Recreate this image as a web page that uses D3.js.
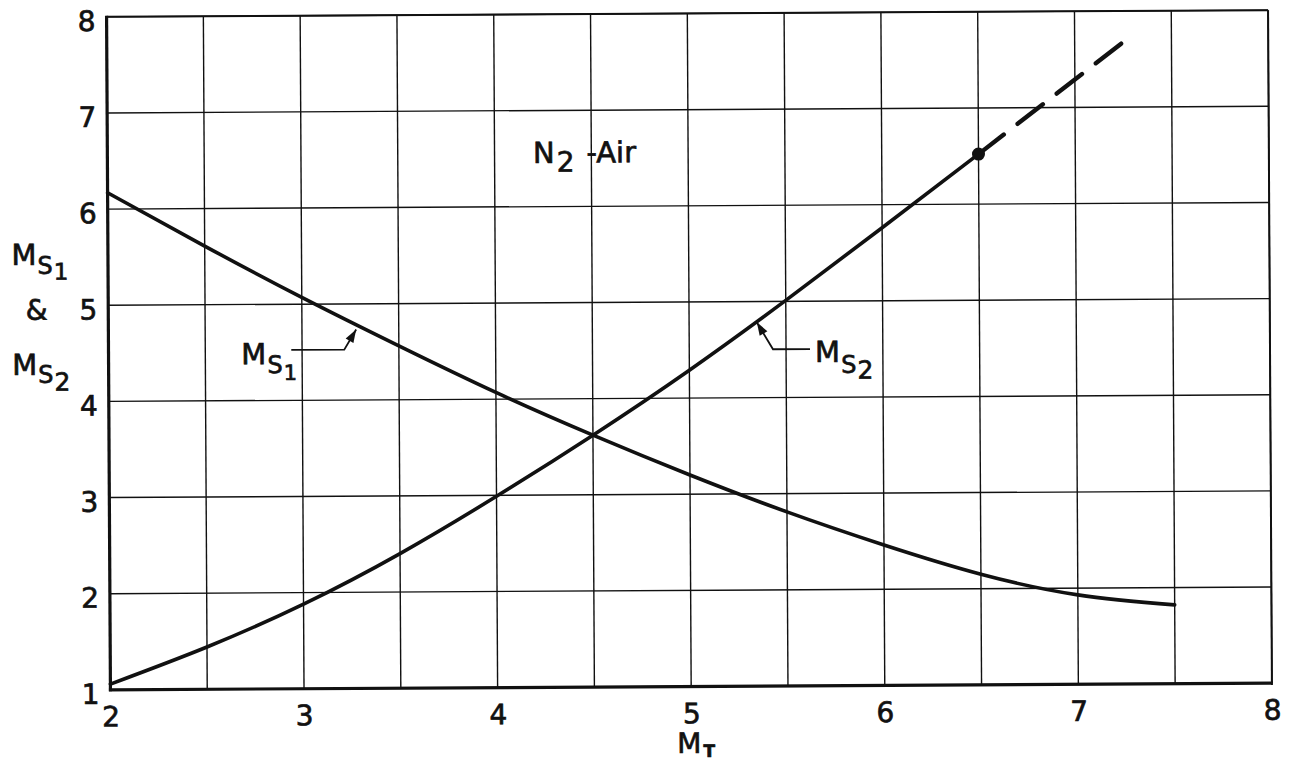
<!DOCTYPE html>
<html>
<head>
<meta charset="utf-8">
<script src="https://cdn.jsdelivr.net/npm/d3@7"></script>
<style>
  html, body { margin: 0; padding: 0; background: #fff; }
  svg text { font-family: "DejaVu Sans", sans-serif; fill: #111; stroke: #111; stroke-width: 0.7px; }
</style>
</head>
<body>
<svg id="chart" width="1292" height="762"></svg>
<script>
// Shock Mach numbers Ms1 and Ms2 against MT (N2 - Air)
const mtValues   = [2, 2.5, 3, 3.5, 4, 4.5, 5, 5.5, 6, 6.5, 7, 7.5];
const ms1Values  = [6.17, 5.61, 5.07, 4.56, 4.07, 3.62, 3.20, 2.81, 2.46, 2.15, 1.93, 1.82];
const ms2Mt      = [2, 2.5, 3, 3.5, 4, 4.5, 5, 5.5, 6, 6.5];
const ms2Values  = [1.06, 1.44, 1.88, 2.40, 2.99, 3.62, 4.29, 5.01, 5.76, 6.52];
const ms2ExtMt     = [6.5, 7.24];
const ms2ExtValues = [6.52, 7.66];
const markedMt = 6.5;
const markedMs = 6.52;
const xTickValues = [2, 3, 4, 5, 6, 7, 8];
const yTickValues = [1, 2, 3, 4, 5, 6, 7, 8];
const xGridValues = [2, 2.5, 3, 3.5, 4, 4.5, 5, 5.5, 6, 6.5, 7, 7.5, 8];
const yGridValues = [1, 2, 3, 4, 5, 6, 7, 8];

const plot = { left: 108.5, right: 1270, top: 13.5, bottom: 686.5 };
const ink = "#111";

const svg = d3.select("#chart");
// the whole sheet sits very slightly turned
const sheet = svg.append("g").attr("transform", "rotate(-0.33 689 350)");

const x = d3.scaleLinear().domain([2, 8]).range([plot.left, plot.right]);
const y = d3.scaleLinear().domain([1, 8]).range([plot.bottom, plot.top]);

// grid
sheet.append("g").selectAll("line").data(xGridValues).join("line")
  .attr("x1", d => x(d)).attr("x2", d => x(d))
  .attr("y1", plot.top).attr("y2", plot.bottom)
  .attr("stroke", ink).attr("stroke-width", 1.4);
sheet.append("g").selectAll("line").data(yGridValues).join("line")
  .attr("x1", plot.left).attr("x2", plot.right)
  .attr("y1", d => y(d)).attr("y2", d => y(d))
  .attr("stroke", ink).attr("stroke-width", 1.4);

// frame: heavier on the left and bottom
sheet.append("line").attr("x1", plot.left).attr("x2", plot.left).attr("y1", plot.top - 1).attr("y2", plot.bottom + 1.5)
  .attr("stroke", ink).attr("stroke-width", 3.2);
sheet.append("line").attr("x1", plot.left - 1.5).attr("x2", plot.right + 1).attr("y1", plot.bottom).attr("y2", plot.bottom)
  .attr("stroke", ink).attr("stroke-width", 3.2);
sheet.append("line").attr("x1", plot.left).attr("x2", plot.right).attr("y1", plot.top).attr("y2", plot.top)
  .attr("stroke", ink).attr("stroke-width", 2);
sheet.append("line").attr("x1", plot.right).attr("x2", plot.right).attr("y1", plot.top).attr("y2", plot.bottom)
  .attr("stroke", ink).attr("stroke-width", 2);

// axes (labels only; the grid carries the lines)
const xAxis = sheet.append("g").attr("transform", `translate(0,${plot.bottom})`)
  .call(d3.axisBottom(x).tickValues(xTickValues).tickSize(0).tickPadding(10).tickFormat(d3.format("d")));
const yAxis = sheet.append("g").attr("transform", `translate(${plot.left},0)`)
  .call(d3.axisLeft(y).tickValues(yTickValues).tickSize(0).tickPadding(11).tickFormat(d3.format("d")));
[xAxis, yAxis].forEach(a => {
  a.select(".domain").remove();
  a.selectAll("text").attr("font-size", 28).attr("font-family", "DejaVu Sans").attr("fill", ink);
});
xAxis.selectAll("text").attr("dy", "0.95em");
yAxis.selectAll("text").attr("dy", "0.48em");

// curves
const line = d3.line().x(d => x(d[0])).y(d => y(d[1])).curve(d3.curveNatural);
const ms1Pts = mtValues.map((m, i) => [m, ms1Values[i]]);
const ms2Pts = ms2Mt.map((m, i) => [m, ms2Values[i]]);
const ms2Ext = ms2ExtMt.map((m, i) => [m, ms2ExtValues[i]]);

sheet.append("path").attr("d", line(ms1Pts)).attr("fill", "none")
  .attr("stroke", ink).attr("stroke-width", 3.6).attr("stroke-linecap", "round");
sheet.append("path").attr("d", line(ms2Pts)).attr("fill", "none")
  .attr("stroke", ink).attr("stroke-width", 3.6).attr("stroke-linecap", "round");

// extrapolated part: dashes spread so the last one ends on the final point
const extPath = sheet.append("path").attr("d", d3.line().x(d => x(d[0])).y(d => y(d[1]))(ms2Ext)).attr("fill", "none")
  .attr("stroke", ink).attr("stroke-width", 4.4).attr("stroke-linecap", "round");
{
  const L = extPath.node().getTotalLength();
  const dash = 32;
  const gap = (L - 4 * dash) / 3;
  extPath.attr("stroke-dasharray", `${dash},${gap}`);
}
sheet.append("circle").attr("cx", x(markedMt)).attr("cy", y(markedMs)).attr("r", 6.5).attr("fill", ink);

// helpers
function valueAt(xs, ys, v) {
  const i = Math.max(1, d3.bisectLeft(xs, v));
  const t = (v - xs[i - 1]) / (xs[i] - xs[i - 1]);
  return ys[i - 1] + t * (ys[i] - ys[i - 1]);
}
function msText(g, px, py, sub, opts = {}) {
  const t = g.append("text").attr("x", px).attr("y", py).attr("font-size", opts.m || 29);
  t.append("tspan").text("M");
  t.append("tspan").attr("font-size", opts.s || 24).attr("dx", 1).attr("dy", opts.sdy || 9).text("S");
  t.append("tspan").attr("font-size", opts.d || 21).attr("dx", 1).attr("dy", opts.ddy || 7).text(sub);
  return t;
}
function arrow(g, points) {
  g.append("path").attr("d", d3.line()(points)).attr("fill", "none")
    .attr("stroke", ink).attr("stroke-width", 1.8);
  const [tx, ty] = points[points.length - 1];
  const [px, py] = points[points.length - 2];
  const ang = Math.atan2(ty - py, tx - px);
  const len = 13, half = 4.5;
  const bx = tx - len * Math.cos(ang), by = ty - len * Math.sin(ang);
  const nx = -Math.sin(ang) * half, ny = Math.cos(ang) * half;
  g.append("path").attr("d", `M${tx},${ty}L${bx + nx},${by + ny}L${bx - nx},${by - ny}Z`).attr("fill", ink);
}

// Ms1 callout
{
  const tx = x(3.28), ty = y(valueAt(mtValues, ms1Values, 3.28)) + 5;
  arrow(sheet, [[tx - 65, ty + 20], [tx - 12, ty + 20], [tx, ty]]);
  msText(sheet, tx - 115, ty + 34, "1");
}
// Ms2 callout
{
  const tx = x(5.35), ty = y(valueAt(ms2Mt, ms2Values, 5.35)) + 1;
  arrow(sheet, [[tx + 53, ty + 27], [tx + 16, ty + 27], [tx, ty]]);
  msText(sheet, tx + 58, ty + 40, "2", { sdy: 11, ddy: 6, d: 25 });
}

// gas pair label
{
  const t = sheet.append("text").attr("x", 534).attr("y", 162).attr("font-size", 29);
  t.append("tspan").text("N");
  t.append("tspan").attr("font-size", 28).attr("dx", 2).attr("dy", 9).text("2");
  t.append("tspan").attr("font-size", 29).attr("dx", 12).attr("dy", -9).text("-Air");
}

// axis titles
msText(sheet, 12, 261, "1", { d: 23, ddy: 6 });
sheet.append("text").attr("x", 26).attr("y", 316).attr("font-size", 28).text("&");
msText(sheet, 12, 371, "2", { sdy: 8, ddy: 8, d: 25 });
{
  const t = sheet.append("text").attr("x", 675).attr("y", 753).attr("font-size", 28);
  t.append("tspan").text("M");
  t.append("tspan").attr("font-size", 17).attr("font-weight", "bold").attr("dx", 2).attr("dy", 4).text("T");
}
</script>
</body>
</html>
